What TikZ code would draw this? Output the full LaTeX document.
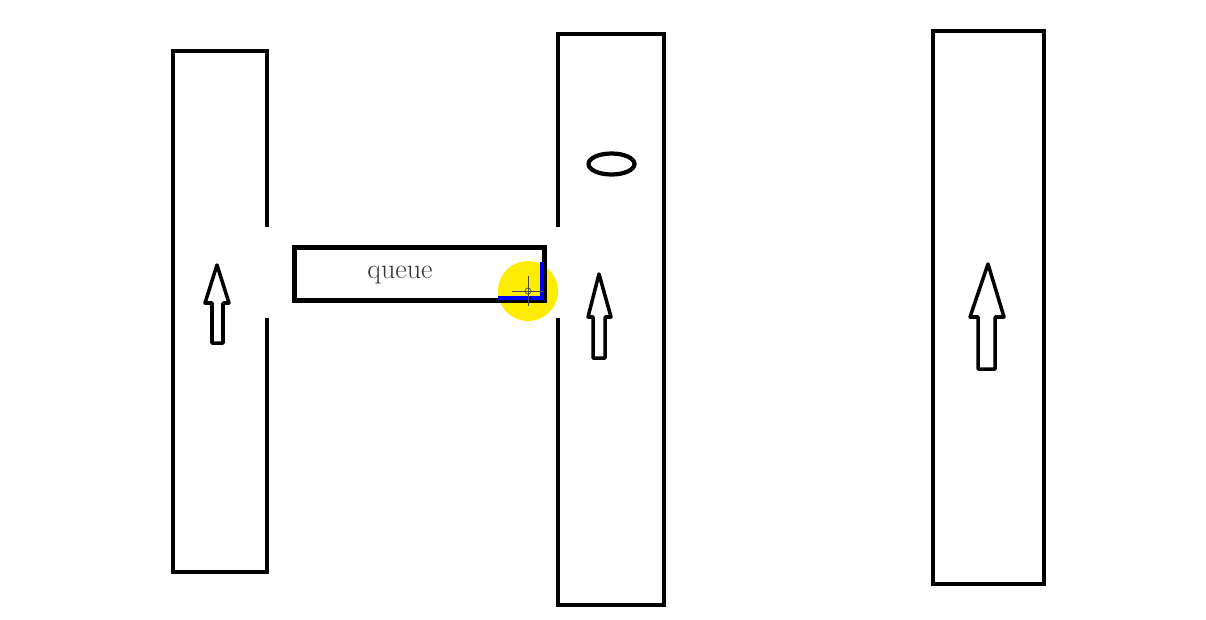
\documentclass[tikz,border=0pt]{standalone}
\usetikzlibrary{positioning}

\begin{document}
\begin{tikzpicture}[
    x=0.02cm, y=-0.02cm,
    wall/.style={line width=2.8pt},
    uparrow/.style={line width=2pt, line join=round},
    cursor/.style={fill=yellow!95!orange, draw=none}
]
\useasboundingbox (0,0) rectangle (1206,619);

% three stacks, the first two open towards the queue
\draw[wall] (267,227) -- (267,51) -- (173,51) -- (173,572) -- (267,572) -- (267,318);
\draw[wall] (558,227) -- (558,34) -- (664,34) -- (664,605) -- (558,605) -- (558,318);
\draw[wall] (933,31) rectangle (1044,584);

% cursor highlight
\fill[cursor] (528,291) circle (30);

% the queue between them
\node[draw, line width=2.8pt, minimum width=5cm, minimum height=1.06cm,
      inner sep=0pt, anchor=north west] (queue) at (292,245) {};
\node[text=black!80, font=\fontsize{16}{18}\selectfont] (qlabel) at (400,275) {queue};
\draw[blue, line width=2.8pt] (542,262) -- (542,298) -- (498,298);
\draw[black!70, line width=0.4pt] (512,291) -- (544,291) (528,276) -- (528,306);
\draw[black!70, line width=0.4pt] (528,291) circle (3);

% token
\draw[line width=2.4pt] (611.5,164) ellipse (23 and 10.5);

% arrows: tip, head base, head half width, shaft half width, shaft end
\draw[uparrow] (217,265) -- (229,303) -- (223,303) -- (223,343) -- (212,343)
    -- (212,303) -- (205,303) -- cycle;
\draw[uparrow] (599,274) -- (611,317) -- (605,317) -- (605,358) -- (593,358)
    -- (593,317) -- (588,317) -- cycle;
\draw[uparrow] (988,264) -- (1004,317) -- (995,317) -- (995,369) -- (978,369)
    -- (978,317) -- (970,317) -- cycle;

\end{tikzpicture}
\end{document}
